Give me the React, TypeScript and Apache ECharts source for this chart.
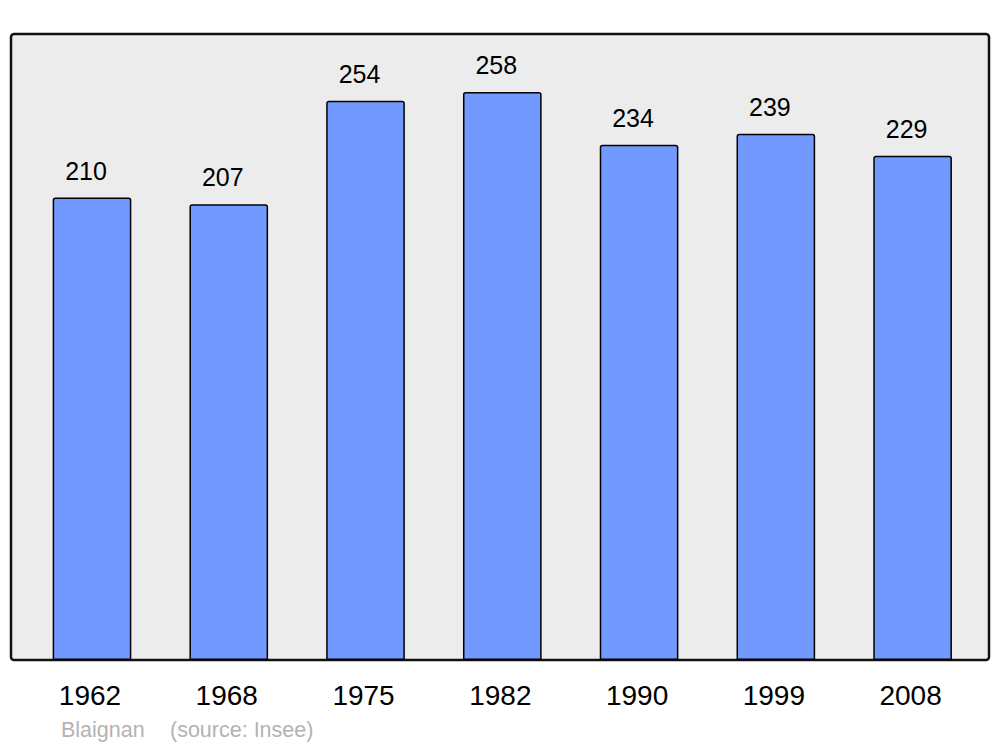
import React, { useEffect, useRef } from "react";
import * as echarts from "echarts";

const years = ["1962", "1968", "1975", "1982", "1990", "1999", "2008"];
const population = [210, 207, 254, 258, 234, 239, 229];
const commune = "Blaignan";
const source = "(source: Insee)";

export default function App() {
  const ref = useRef<HTMLDivElement>(null);
  useEffect(() => {
    if (!ref.current) return;
    const chart = echarts.init(ref.current, null, { renderer: "svg" });
    chart.setOption({
      animation: false,
      backgroundColor: "#ffffff",
      textStyle: { fontFamily: "Liberation Sans, Arial, sans-serif" },
      grid: { left: 23.6, right: 19, top: 34, bottom: 87, containLabel: false },
      xAxis: {
        type: "category",
        data: years,
        axisLine: { show: false },
        axisTick: { show: false },
        axisLabel: {
          color: "#000",
          fontSize: 28,
          margin: 21,
          padding: [0, 4, 0, 0],
          fontFamily: "Liberation Sans, Arial, sans-serif",
        },
      },
      yAxis: {
        type: "value",
        min: 0,
        max: 284.3,
        show: false,
        splitLine: { show: false },
      },
      graphic: [
        {
          type: "rect",
          z: -10,
          shape: { x: 11, y: 34, width: 978, height: 626, r: 3 },
          style: { fill: "#ececec", stroke: "#111", lineWidth: 2.5 },
          silent: true,
        },
        {
          type: "text",
          x: 61,
          y: 730,
          style: {
            text: commune,
            fill: "#b3b3b3",
            font: "21.5px Liberation Sans, Arial, sans-serif",
            textVerticalAlign: "middle",
          },
        },
        {
          type: "text",
          x: 170,
          y: 730,
          style: {
            text: source,
            fill: "#b3b3b3",
            font: "21.5px Liberation Sans, Arial, sans-serif",
            textVerticalAlign: "middle",
          },
        },
      ],
      series: [
        {
          type: "bar",
          data: population,
          barWidth: "57.5%",
          itemStyle: {
            color: "#7299ff",
            borderColor: "#000",
            borderWidth: 1.5,
            borderRadius: [2, 2, 0, 0],
          },
          label: {
            show: true,
            position: "top",
            distance: 14.5,
            offset: [-6, 0],
            color: "#000",
            fontSize: 25,
            fontFamily: "Liberation Sans, Arial, sans-serif",
          },
        },
      ],
    });
    return () => chart.dispose();
  }, []);
  return <div ref={ref} style={{ width: 1000, height: 747, position: "absolute", left: 0, top: 0 }} />;
}
